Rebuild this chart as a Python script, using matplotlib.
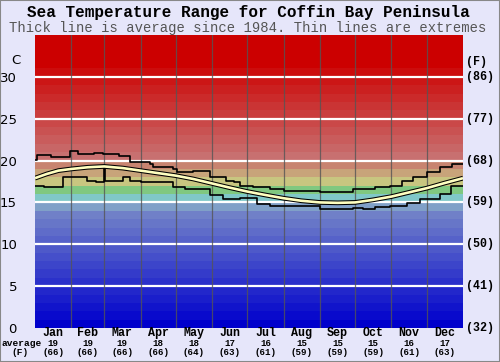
import matplotlib
matplotlib.use('Agg')
import matplotlib.pyplot as plt
import numpy as np
from matplotlib.transforms import blended_transform_factory
from matplotlib.patches import Rectangle

# ---------------- data ----------------
months = ['Jan', 'Feb', 'Mar', 'Apr', 'May', 'Jun', 'Jul', 'Aug', 'Sep', 'Oct', 'Nov', 'Dec']
month_days = [31, 28, 31, 30, 31, 30, 31, 31, 30, 31, 30, 31]
avg_c = [19, 19, 19, 18, 18, 17, 16, 15, 15, 15, 16, 17]
avg_f = [66, 66, 66, 66, 64, 63, 61, 59, 59, 59, 61, 63]
c_ticks = [0, 5, 10, 15, 20, 25, 30]
f_labels = ['(32)', '(41)', '(50)', '(59)', '(68)', '(77)', '(86)']

avg_day = [0, 10, 20, 31, 45, 59, 75, 90, 105, 120, 135, 150, 165, 181, 196, 212,
           227, 243, 258, 273, 288, 304, 319, 334, 349, 365]
avg_temp = [17.9, 18.4, 18.8, 19.0, 19.2, 19.3, 19.1, 18.8, 18.5, 18.2, 17.8, 17.3, 16.8,
            16.3, 15.9, 15.5, 15.2, 15.0, 14.95, 15.0, 15.3, 15.7, 16.2, 16.7, 17.3, 17.9]

max_day = [0, 2, 14, 30, 37, 50, 58, 72, 81, 98, 101, 118, 121, 135, 149, 163, 170, 175,
           186, 200, 212, 243, 254, 271, 290, 303, 313, 322, 334, 345, 356, 365]
max_temp = [20.1, 20.7, 20.4, 21.1, 20.8, 20.9, 20.8, 20.6, 19.8, 19.6, 19.2, 19.0, 18.6,
            18.8, 18.0, 17.6, 17.4, 17.0, 16.8, 16.65, 16.4, 16.2, 16.2, 16.6, 16.8, 17.0,
            17.6, 18.0, 18.6, 19.2, 19.6, 19.6]

min_day = [0, 8, 24, 44, 52, 59, 60, 66, 75, 81, 90, 118, 128, 149, 160, 175, 189, 200,
           243, 271, 280, 290, 303, 317, 328, 345, 355, 365]
min_temp = [16.96, 16.8, 18.0, 17.6, 17.4, 19.2, 17.6, 17.6, 18.0, 17.6, 17.4, 16.8, 16.6,
            15.9, 15.4, 15.56, 14.8, 14.56, 14.16, 14.36, 14.2, 14.4, 14.56, 14.96, 15.36,
            15.96, 16.96, 16.96]

# ---------------- style helpers ----------------
def band_color(k):
    if k >= 31:
        return (204/255, 0, 0)
    if k >= 20:
        f = (k - 20) / 10.0
        a = np.array([200, 112, 112]); b = np.array([204, 12, 12])
        return tuple((a + (b - a) * f) / 255)
    fixed = {19: (200, 132, 112), 18: (200, 164, 122), 17: (200, 198, 128),
             16: (128, 200, 128), 15: (128, 200, 200), 14: (128, 160, 200)}
    if k in fixed:
        return tuple(np.array(fixed[k]) / 255)
    f = k / 13.0
    a = np.array([0, 0, 204]); b = np.array([112, 128, 200])
    return tuple((a + (b - a) * f) / 255)

BG = '#e6e6fa'
MONO = 'Liberation Mono'

fig = plt.figure(figsize=(5, 3.62), dpi=100, facecolor=BG)
W, H = 500, 362
left, right, top, bottom = 35, 463, 35, 328
ax = fig.add_axes([left / W, (H - bottom) / H, (right - left) / W, (bottom - top) / H])
ax.set_xlim(0, 365)
ax.set_ylim(0, 35)

for k in range(35):
    ax.axhspan(k, k + 1, color=band_color(k), lw=0, zorder=0)

for t in c_ticks[1:]:
    ax.axhline(t, color='white', lw=1.6, zorder=1)

bounds = np.cumsum(month_days)[:-1]
for b in bounds:
    ax.axvline(b, color='#555555', lw=0.9, alpha=0.8, zorder=1)

ax.step(max_day, max_temp, where='post', color='black', lw=1.2, zorder=3)
ax.step(min_day, min_temp, where='post', color='black', lw=1.2, zorder=3)
ax.plot(avg_day, avg_temp, color='black', lw=3.4, zorder=4, solid_capstyle='butt')
ax.plot(avg_day, avg_temp, color='#ffffc0', lw=1.9, zorder=5, solid_capstyle='butt')

for s in ax.spines.values():
    s.set_visible(False)
ax.set_xticks([])
ax.set_yticks(c_ticks)
ax.set_yticklabels([str(t) for t in c_ticks], fontsize=9.5, family='DejaVu Sans')
ax.tick_params(axis='y', length=0, pad=13)

ytr = ax.get_yaxis_transform()
for t, lab in zip(c_ticks, f_labels):
    ax.text(1.007, t, lab, transform=ytr, ha='left', va='center', family=MONO,
            weight='bold', fontsize=8.4)
ax.text(1.007, 31.8, '(F)', transform=ytr, ha='left', va='center', family=MONO,
        weight='bold', fontsize=8.4)
fig.text(16 / W, 1 - 60 / H, 'C', ha='center', va='center', fontsize=9.5,
         family='DejaVu Sans')

# bottom labels
btr = blended_transform_factory(ax.transData, fig.transFigure)
starts = np.concatenate([[0], np.cumsum(month_days)[:-1]])
centers = starts + np.array(month_days) / 2.0
for c, m, ac, af in zip(centers, months, avg_c, avg_f):
    ax.text(c, 1 - 333 / H, m, transform=btr, ha='center', va='center', family=MONO,
            weight='bold', fontsize=8.4)
    ax.text(c, 1 - 343.5 / H, str(ac), transform=btr, ha='center', va='center',
            family=MONO, weight='bold', fontsize=6.6)
    ax.text(c, 1 - 352.5 / H, '(%d)' % af, transform=btr, ha='center', va='center',
            family=MONO, weight='bold', fontsize=6.6)
fig.text(22 / W, 1 - 343.5 / H, 'average', ha='center', va='center', family=MONO,
         weight='bold', fontsize=6.8)
fig.text(20 / W, 1 - 352.5 / H, '(F)', ha='center', va='center', family=MONO,
         weight='bold', fontsize=6.8)

fig.text(0.497, 1 - 13 / H, 'Sea Temperature Range for Coffin Bay Peninsula',
         ha='center', va='center', family=MONO, weight='bold', fontsize=11.5)
fig.text(0.495, 1 - 28 / H, 'Thick line is average since 1984. Thin lines are extremes',
         ha='center', va='center', family=MONO, color='#555555', fontsize=10)

fig.patches.append(Rectangle((0, 0), 1, 1, transform=fig.transFigure, fill=False,
                             edgecolor='#888888', lw=1.5))

fig.savefig('out.png', dpi=100, facecolor=BG)
